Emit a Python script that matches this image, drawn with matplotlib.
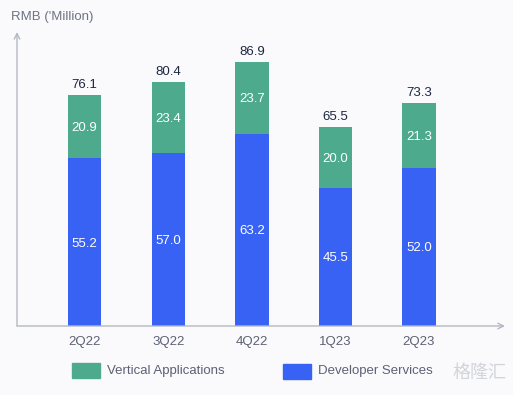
import matplotlib.pyplot as plt

quarters = ["2Q22", "3Q22", "4Q22", "1Q23", "2Q23"]
developer = [55.2, 57.0, 63.2, 45.5, 52.0]
vertical = [20.9, 23.4, 23.7, 20.0, 21.3]
totals = [76.1, 80.4, 86.9, 65.5, 73.3]

verde = "#4DAA8D"
azul = "#3862F4"
cinza = "#B4B8C2"
fundo = "#FAFAFD"

plt.rcParams["font.family"] = ["Liberation Sans", "DejaVu Sans"]

fig = plt.figure(figsize=(5.13, 3.95), dpi=100, facecolor=fundo)
ax = fig.add_axes([17 / 513, 69 / 395, 488 / 513, 294 / 395])
ax.set_facecolor(fundo)

x = range(len(quarters))
ax.bar(x, developer, width=0.4, color=azul, label="Developer Services")
ax.bar(x, vertical, width=0.4, bottom=developer, color=verde, label="Vertical Applications")

for i in x:
    ax.text(i, developer[i] / 2, f"{developer[i]:.1f}", ha="center", va="center_baseline",
            color="white", fontsize=9.5)
    ax.text(i, developer[i] + vertical[i] / 2, f"{vertical[i]:.1f}", ha="center",
            va="center_baseline", color="white", fontsize=9.5)
    ax.text(i, totals[i] + 1.2, f"{totals[i]:.1f}", ha="center", va="bottom",
            color="#1E2740", fontsize=9.5)

ax.set_xlim(-0.81, 5.03)
ax.set_ylim(0, 96.7)
for s in ax.spines.values():
    s.set_visible(False)
ax.set_yticks([])
ax.set_xticks(list(x))
ax.set_xticklabels(quarters, fontsize=9.5, color="#5C6173")
ax.tick_params(axis="x", length=0, pad=7)

# eixos com setas
ax.annotate("", xy=(1.0, 0), xytext=(0, 0), xycoords="axes fraction",
            arrowprops=dict(arrowstyle="->", color=cinza, lw=1, shrinkA=0, shrinkB=0))
ax.annotate("", xy=(0, 1.0), xytext=(0, 0), xycoords="axes fraction",
            arrowprops=dict(arrowstyle="->", color=cinza, lw=1, shrinkA=0, shrinkB=0))

fig.text(11 / 513, 1 - 17 / 395, "RMB ('Million)", fontsize=9.5, color="#6E7383",
         va="center", ha="left")

# legenda manual
fig.patches.append(plt.Rectangle((72 / 513, 1 - 378 / 395), 28 / 513, 15 / 395,
                                 transform=fig.transFigure, color=verde))
fig.text(107 / 513, 1 - 371 / 395, "Vertical Applications", fontsize=9.5,
         color="#5C6173", va="center")
fig.patches.append(plt.Rectangle((283 / 513, 1 - 379 / 395), 28 / 513, 15 / 395,
                                 transform=fig.transFigure, color=azul))
fig.text(318 / 513, 1 - 371 / 395, "Developer Services", fontsize=9.5,
         color="#5C6173", va="center")

fig.text(507 / 513, 1 - 373 / 395, "格隆汇", fontsize=13, color="#D2D4DA",
         va="center", ha="right", family=["Noto Sans CJK SC", "DejaVu Sans"])

fig.savefig("out.png", dpi=100, facecolor=fundo)
